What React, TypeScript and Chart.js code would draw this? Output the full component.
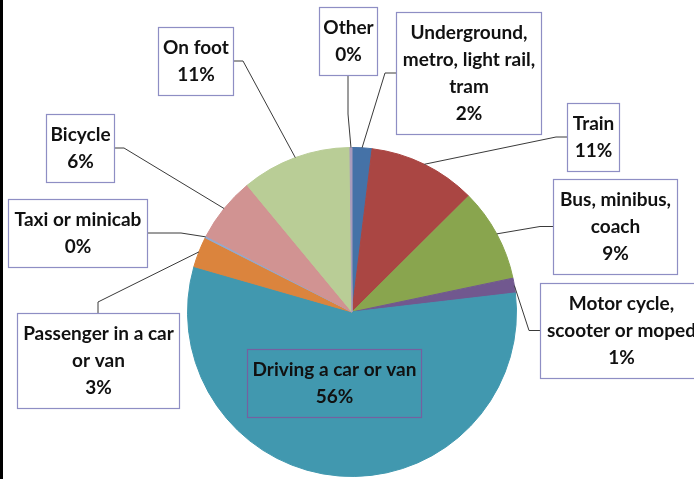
import React, { useEffect, useRef } from "react";
import { Chart, registerables } from "chart.js";

Chart.register(...registerables);

const CATEGORIES: string[][] = [
  ["Underground,", "metro, light rail,", "tram"],
  ["Train"],
  ["Bus, minibus,", "coach"],
  ["Motor cycle,", "scooter or moped"],
  ["Driving a car or van"],
  ["Passenger in a car", "or van"],
  ["Taxi or minicab"],
  ["Bicycle"],
  ["On foot"],
  ["Other"],
];

const SHARES = [1.95, 10.6, 9.15, 1.45, 56.3, 3.0, 0.2, 6.35, 10.8, 0.2];

const COLORS = [
  "#4572A7",
  "#AA4643",
  "#89A54E",
  "#71588F",
  "#4198AF",
  "#DB843D",
  "#93A9CF",
  "#D19392",
  "#B9CD96",
  "#A99BBD",
];

// Label box layout: [left, top, width], anchor side, elbow length
const LABEL_BOXES: [number, number, number][] = [
  [396, 12, 145],
  [567, 103, 52],
  [553, 179, 124],
  [540, 283, 162],
  [247, 349, 174],
  [17, 313, 162],
  [8, 199, 139],
  [46, 114, 68],
  [158, 27, 75],
  [319, 7, 58],
];
const LABEL_ANCHORS = ["left", "left", "left", "left", "none", "top", "right", "right", "right", "bottom"];
const LABEL_ELBOWS = [11, 11, 13, 11, 0, 11, 34, 10, 10, 39];

const FONT = "bold 19px Lato";
const LINE_H = 27;

const calloutPlugin = {
  id: "calloutLabels",
  beforeDraw(chart: any) {
    const ctx = chart.ctx;
    ctx.save();
    ctx.fillStyle = "#ffffff";
    ctx.fillRect(0, 0, chart.width, chart.height);
    ctx.fillStyle = "#000000";
    ctx.fillRect(0, 0, 3, chart.height);
    ctx.restore();
  },
  afterDatasetsDraw(chart: any) {
    const ctx = chart.ctx;
    const meta = chart.getDatasetMeta(0);
    const data = chart.data.datasets[0].data as number[];
    const total = data.reduce((a, b) => a + b, 0);
    ctx.save();
    meta.data.forEach((arc: any, i: number) => {
      const p = arc.getProps(["x", "y", "startAngle", "endAngle", "outerRadius"], true);
      const mid = (p.startAngle + p.endAngle) / 2;
      const ex = p.x + Math.cos(mid) * p.outerRadius;
      const ey = p.y + Math.sin(mid) * p.outerRadius;
      const lines = [...(chart.data.labels[i] as string[]), Math.round((data[i] / total) * 100) + "%"];
      const [bx, by, bw] = LABEL_BOXES[i];
      const bh = 41 + LINE_H * (lines.length - 1);
      const anchor = LABEL_ANCHORS[i];
      const el = LABEL_ELBOWS[i];
      if (anchor !== "none") {
        let ax = bx, ay = by, kx = bx, ky = by;
        if (anchor === "left") { ax = bx; ay = by + bh / 2; kx = ax - el; ky = ay; }
        if (anchor === "right") { ax = bx + bw; ay = by + bh / 2; kx = ax + el; ky = ay; }
        if (anchor === "top") { ax = bx + bw / 2; ay = by; kx = ax; ky = ay - el; }
        if (anchor === "bottom") { ax = bx + bw / 2; ay = by + bh; kx = ax; ky = ay + el; }
        ctx.beginPath();
        ctx.moveTo(ax, ay);
        ctx.lineTo(kx, ky);
        ctx.lineTo(ex, ey);
        ctx.strokeStyle = "#3a3a3a";
        ctx.lineWidth = 1;
        ctx.stroke();
      }
      if (anchor !== "none") {
        ctx.fillStyle = "#ffffff";
        ctx.fillRect(bx, by, bw, bh);
        ctx.strokeStyle = "#8E8EC4";
      } else {
        ctx.strokeStyle = "#7560A0";
      }
      ctx.lineWidth = 1.2;
      ctx.strokeRect(bx + 0.5, by + 0.5, bw, bh);
      ctx.fillStyle = "#111111";
      ctx.font = FONT;
      ctx.textAlign = "center";
      ctx.textBaseline = "middle";
      lines.forEach((t, k) => {
        ctx.fillText(t, bx + bw / 2 + 0.5, by + 21 + k * LINE_H);
      });
    });
    ctx.restore();
  },
};

export default function App() {
  const ref = useRef<HTMLCanvasElement>(null);
  useEffect(() => {
    document.body.style.margin = "0";
    const chart = new Chart(ref.current!, {
      type: "pie",
      data: {
        labels: CATEGORIES,
        datasets: [
          {
            data: SHARES,
            backgroundColor: COLORS,
            borderColor: COLORS,
            borderWidth: 1,
          },
        ],
      },
      options: {
        animation: false,
        responsive: false,
        devicePixelRatio: 1,
        layout: { padding: { left: 187, right: 177, top: 147, bottom: 2 } },
        plugins: {
          legend: { display: false },
          tooltip: { enabled: false },
        },
      },
      plugins: [calloutPlugin],
    });
    return () => chart.destroy();
  }, []);
  return (
    <div style={{ position: "fixed", left: 0, top: 0, width: 694, height: 479 }}>
      <canvas ref={ref} width={694} height={479} />
    </div>
  );
}
